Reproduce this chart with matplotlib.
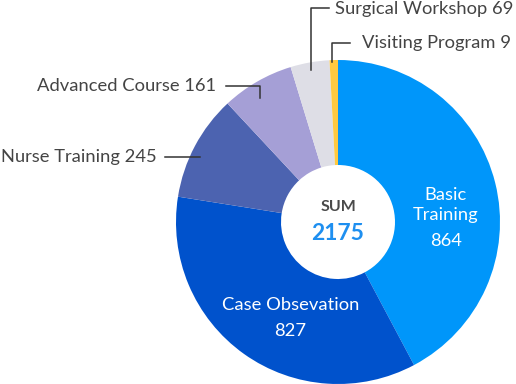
import numpy as np
import matplotlib
matplotlib.use("Agg")
import matplotlib.pyplot as plt

labels = ["Basic Training", "Case Obsevation", "Nurse Training", "Advanced Course", "Surgical Workshop", "Visiting Program"]
values = [864, 827, 245, 161, 69, 9]
# slice sizes (degrees) as actually drawn in the reference picture
slice_degrees = [152, 127, 38, 26, 14, 3]
colors = ["#0096FA", "#0052CC", "#4C63B0", "#A59FD6", "#DEDEE6", "#FFC940"]

W, H = 516, 384
plt.rcParams['font.family'] = ['Lato', 'DejaVu Sans']
fig = plt.figure(figsize=(W / 100, H / 100), dpi=100)
ax = fig.add_axes([0, 0, 1, 1])

cx, cy_top, R, r_in = 338, 222, 162, 57
cy = H - cy_top
wedges, _ = ax.pie(slice_degrees, colors=colors, startangle=90, counterclock=False,
                   center=(cx, cy), radius=R,
                   wedgeprops=dict(width=R - r_in, edgecolor='none', linewidth=0))
ax.set_xlim(0, W)
ax.set_ylim(0, H)
ax.set_aspect('equal')
ax.axis('off')

FS = 13.2
total = sum(values)
ax.text(cx, H - 207, "SUM", ha='center', va='center', fontsize=11.5, fontweight='bold', color='#4a4a4a')
ax.text(cx, H - 234, f"{total}", ha='center', va='center', fontsize=16.5, fontweight='bold', color='#1E8FF0')

# inside labels
in_kw = dict(ha='center', va='baseline', fontsize=FS, color='white')
ax.text(446, H - 200, "Basic", **in_kw)
ax.text(446, H - 220, "Training", **in_kw)
ax.text(446, H - 245.5, f"{values[0]}", **in_kw)
ax.text(290.5, H - 310, labels[1], **in_kw)
ax.text(290.5, H - 335.5, f"{values[1]}", **in_kw)

def anchor(i, rr, dang=0.0):
    start = 90 - sum(slice_degrees[:i])
    end = 90 - sum(slice_degrees[:i + 1])
    a = np.deg2rad((start + end) / 2 + dang)
    return cx + rr * np.cos(a), cy + rr * np.sin(a)

line_kw = dict(color='#333333', lw=1.1)
txt_kw = dict(fontsize=FS, color='#444444', va='center')

# Surgical Workshop
ax_, ay_ = anchor(4, 154)
ty = H - 8
ax.plot([ax_, ax_, ax_ + 18], [ay_, ty, ty], **line_kw)
ax.text(ax_ + 24, ty - 1, f"{labels[4]} {values[4]}", ha='left', **txt_kw)

# Visiting Program
ax_, ay_ = anchor(5, 160, 0.5)
ty = H - 43
ax.plot([ax_, ax_, ax_ + 18], [ay_, ty, ty], **line_kw)
ax.text(ax_ + 30, ty, f"{labels[5]} {values[5]}", ha='left', **txt_kw)

# Advanced Course
ax_, ay_ = anchor(3, 147, 2.2)
ty = H - 86
ax.plot([ax_, ax_, ax_ - 34], [ay_, ty, ty], **line_kw)
ax.text(ax_ - 44, ty, f"{labels[3]} {values[3]}", ha='right', **txt_kw)

# Nurse Training
ax_, ay_ = anchor(2, 152, 2.8)
ax.plot([ax_, ax_ - 35], [ay_, ay_], **line_kw)
ax.text(ax_ - 44, ay_, f"{labels[2]} {values[2]}", ha='right', **txt_kw)

fig.savefig("out.png", dpi=100, facecolor='white')
